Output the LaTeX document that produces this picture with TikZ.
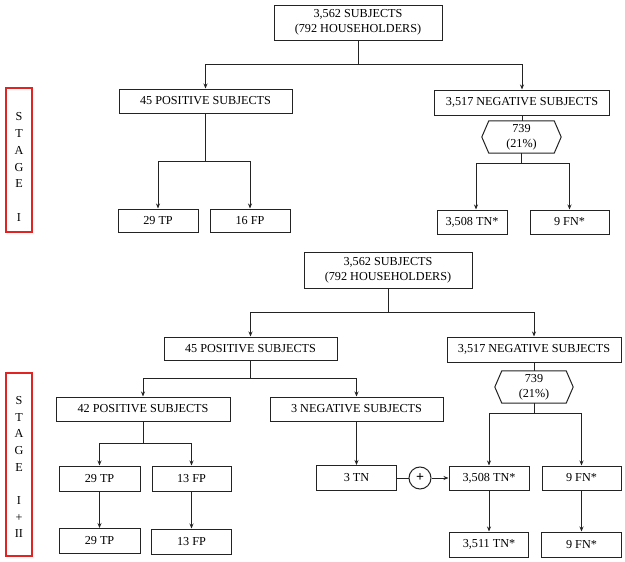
\documentclass[tikz,border=0pt]{standalone}
\usepackage{fontspec}
\setmainfont{Liberation Serif}
\usetikzlibrary{arrows.meta,calc}
\definecolor{stagered}{RGB}{225,35,35}
\definecolor{ln}{RGB}{35,35,35}
\begin{document}
\begin{tikzpicture}[x=1pt,y=-1pt,
  every node/.style={font=\fontsize{12.2}{15}\selectfont, text=black},
  bx/.style={draw=ln, line width=1pt, inner sep=0pt, align=center},
  hexnode/.style={inner sep=0pt, align=center},
  conn/.style={draw=ln, line width=1pt},
  arr/.style={conn, -{Stealth[length=5pt,width=4pt]}},
  stagebox/.style={draw=stagered, line width=1.5pt, minimum width=26pt, inner sep=0pt},
  stagetext/.style={align=center, inner sep=0pt, font=\fontsize{12.2}{16.7}\selectfont}
]
\useasboundingbox (0,0) rectangle (625,562);

% ---------------- STAGE I ----------------
\node[bx, minimum width=168pt, minimum height=35pt] (top1) at (358,22.5) {3,562 SUBJECTS\\(792 HOUSEHOLDERS)};
\node[bx, minimum width=173pt, minimum height=24pt] (pos1) at (205.5,101) {45 POSITIVE SUBJECTS};
\node[bx, minimum width=175pt, minimum height=25pt] (neg1) at (522,102.5) {3,517 NEGATIVE SUBJECTS};
\node[hexnode, minimum width=79pt, minimum height=32pt] (hex1) at (521.5,137) {739\\(21\%)};
\draw[conn] (hex1.west) -- ($(hex1.north west)+(7,0)$) -- ($(hex1.north east)+(-7,0)$) -- (hex1.east) -- ($(hex1.south east)+(-7,0)$) -- ($(hex1.south west)+(7,0)$) -- cycle;
\node[bx, minimum width=80pt, minimum height=23pt] (tp1) at (158,220.5) {29 TP};
\node[bx, minimum width=80pt, minimum height=23pt] (fp1) at (250,220.5) {16 FP};
\node[bx, minimum width=70pt, minimum height=24pt] (tn1) at (472,222) {3,508 TN*};
\node[bx, minimum width=79pt, minimum height=24pt] (fn1) at (569.5,222) {9 FN*};

\coordinate (j1) at (358,64);
\draw[conn] (top1.south) -- (j1);
\draw[arr] (j1) -| (pos1.north);
\draw[arr] (j1) -| (neg1.north);
\coordinate (j2) at (205.5,161);
\draw[conn] (pos1.south) -- (j2);
\draw[arr] (j2) -| (tp1.north);
\draw[arr] (j2) -| (fp1.north);
\draw[conn] (neg1.south) -- (neg1.south |- hex1.north);
\coordinate (j3) at (521.5,163);
\draw[conn] (hex1.south) -- (j3);
\draw[arr] (j3) -| ([xshift=4pt]tn1.north);
\draw[arr] (j3) -| (fn1.north);

\node[stagebox, minimum height=144pt] (s1) at (19,160) {};
\node[stagetext] (s1t) at (19,167) {S\\T\\A\\G\\E\\[16.7pt]I};

% ---------------- STAGE I + II ----------------
\node[bx, minimum width=168pt, minimum height=36pt] (top2) at (388,270) {3,562 SUBJECTS\\(792 HOUSEHOLDERS)};
\node[bx, minimum width=173pt, minimum height=23pt] (pos2) at (250.5,348.5) {45 POSITIVE SUBJECTS};
\node[bx, minimum width=174pt, minimum height=25pt] (neg2) at (534,349.5) {3,517 NEGATIVE SUBJECTS};
\node[hexnode, minimum width=78pt, minimum height=32pt] (hex2) at (534,387) {739\\(21\%)};
\draw[conn] (hex2.west) -- ($(hex2.north west)+(7,0)$) -- ($(hex2.north east)+(-7,0)$) -- (hex2.east) -- ($(hex2.south east)+(-7,0)$) -- ($(hex2.south west)+(7,0)$) -- cycle;
\node[bx, minimum width=174pt, minimum height=24pt] (pos42) at (143,409) {42 POSITIVE SUBJECTS};
\node[bx, minimum width=173pt, minimum height=24pt] (neg3) at (356.5,409) {3 NEGATIVE SUBJECTS};
\node[bx, minimum width=81pt, minimum height=25pt] (tp2) at (99.5,478.5) {29 TP};
\node[bx, minimum width=79pt, minimum height=25pt] (fp2) at (191.5,478.5) {13 FP};
\node[bx, minimum width=81pt, minimum height=25pt] (tp2b) at (99.5,541) {29 TP};
\node[bx, minimum width=80pt, minimum height=25pt] (fp2b) at (191.5,541.5) {13 FP};
\node[bx, minimum width=80pt, minimum height=25pt] (tn3) at (356.5,478) {3 TN};
\node[circle, draw=ln, line width=1pt, minimum size=22pt, inner sep=0pt, font=\fontsize{14}{15}\selectfont\bfseries] (plus) at (420,478) {+};
\node[bx, minimum width=80pt, minimum height=24pt] (tn2) at (489,478) {3,508 TN*};
\node[bx, minimum width=79pt, minimum height=24pt] (fn2) at (581.5,478) {9 FN*};
\node[bx, minimum width=79pt, minimum height=25pt] (tn2b) at (489,544.5) {3,511 TN*};
\node[bx, minimum width=80pt, minimum height=25pt] (fn2b) at (581.5,544.5) {9 FN*};

\coordinate (k1) at (388,312);
\draw[conn] (top2.south) -- (k1);
\draw[arr] (k1) -| (pos2.north);
\draw[arr] (k1) -| (neg2.north);
\draw[conn] (neg2.south) -- (neg2.south |- hex2.north);
\coordinate (k2) at (250.5,378);
\draw[conn] (pos2.south) -- (k2);
\draw[arr] (k2) -| (pos42.north);
\draw[arr] (k2) -| (neg3.north);
\coordinate (k3) at (534,413);
\draw[conn] (hex2.south) -- (k3);
\draw[arr] (k3) -| (tn2.north);
\draw[arr] (k3) -| (fn2.north);
\coordinate (k4) at (143,443);
\draw[conn] (pos42.south) -- (k4);
\draw[arr] (k4) -| (tp2.north);
\draw[arr] (k4) -| (fp2.north);
\draw[arr] (neg3.south) -- (tn3.north);
\draw[arr] (tp2.south) -- (tp2b.north);
\draw[arr] (fp2.south) -- (fp2b.north);
\draw[conn] (tn3.east) -- (plus.west);
\draw[arr] (plus.east) -- (tn2.west);
\draw[arr] (tn2.south) -- (tn2b.north);
\draw[arr] (fn2.south) -- (fn2b.north);

\node[stagebox, minimum height=183pt] (s2) at (19,464.5) {};
\node[stagetext] (s2t) at (19,467) {S\\T\\A\\G\\E\\[16.5pt]I\\+\\II};
\end{tikzpicture}
\end{document}
